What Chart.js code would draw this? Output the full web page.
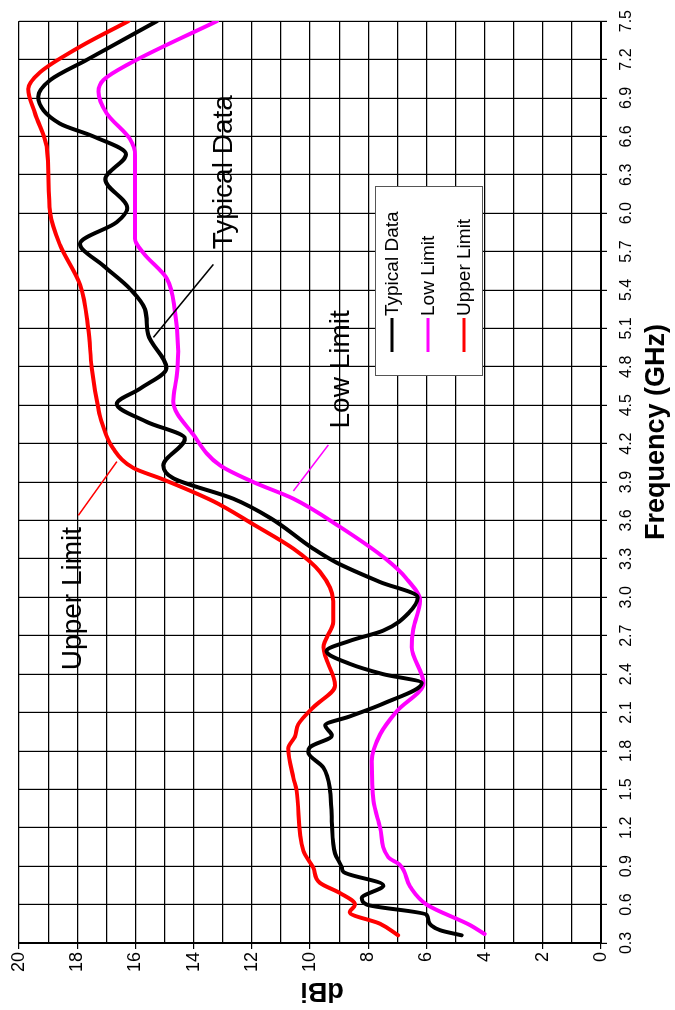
<!DOCTYPE html>
<html>
<head>
<meta charset="utf-8">
<style>
  html, body { margin: 0; padding: 0; background: #fff; overflow: hidden; }
  #wrap {
    position: absolute; left: 0; top: 0; width: 1010px; height: 675px;
    transform-origin: 0 0;
    transform: translateY(1010px) rotate(-90deg);
  }
</style>
</head>
<body>
<div id="wrap"><canvas id="myChart" width="1010" height="675"></canvas></div>

<script src="https://cdn.jsdelivr.net/npm/chart.js"></script>
<script>
  // chart is drawn the "normal" way (freq along x) and the whole canvas is turned 90deg
  var freqTicks = [0.3, 0.6, 0.9, 1.2, 1.5, 1.8, 2.1, 2.4, 2.7, 3.0, 3.3, 3.6, 3.9, 4.2,
                   4.5, 4.8, 5.1, 5.4, 5.7, 6.0, 6.3, 6.6, 6.9, 7.2, 7.5];
  var dbTicks = [0, 2, 4, 6, 8, 10, 12, 14, 16, 18, 20];
  var dbGrid = [0, 1, 2, 3, 4, 5, 6, 7, 8, 9, 10, 11, 12, 13, 14, 15, 16, 17, 18, 19, 20];

  var typFreq = [0.36, 0.40, 0.47, 0.52, 0.60, 0.65, 0.75, 0.855, 0.89, 1.0, 1.25, 1.49, 1.67, 1.79, 1.83,
                 1.92, 2.0, 2.07, 2.17, 2.33, 2.40, 2.48, 2.58, 2.66, 2.74, 2.88, 3.0, 3.12, 3.27, 3.38,
                 3.62, 3.77, 3.93, 4.03, 4.24, 4.37, 4.51, 4.63, 4.79, 5.05, 5.25, 5.41, 5.59, 5.76,
                 5.93, 6.04, 6.265, 6.46, 6.6, 6.7, 6.91, 7.04, 7.2, 7.5];
  var typDb   = [4.79, 5.53, 5.93, 5.99, 8.05, 8.22, 7.48, 8.85, 8.91, 9.14, 9.25, 9.31, 9.54, 10.06, 10.0,
                 9.25, 9.48, 8.63, 7.48, 6.16, 7.49, 8.63, 9.43, 8.63, 7.48, 6.6, 6.3, 7.6, 9.08, 9.89,
                 11.37, 12.64, 14.7, 15.04, 14.3, 15.61, 16.64, 15.84, 14.93, 15.56, 15.67, 16.19, 17.1, 17.9,
                 16.64, 16.28, 17.04, 16.32, 17.45, 18.6, 19.34, 18.93, 17.65, 15.26];

  var lowFreq = [0.37, 0.44, 0.60, 0.74, 0.91, 0.97, 1.2, 1.41, 1.72, 1.93, 2.11, 2.33, 2.61, 2.75, 2.97,
                 3.15, 3.3, 3.55, 3.77, 3.90, 4.03, 4.27, 4.53, 4.73, 4.92, 5.23, 5.49, 5.69, 5.80,
                 6.06, 6.45, 6.58, 6.78, 6.95, 7.04, 7.17, 7.5];
  var lowDb   = [4.0, 4.5, 5.99, 6.56, 6.91, 7.31, 7.59, 7.82, 7.88, 7.59, 7.02, 6.1, 6.5, 6.45, 6.22,
                 6.7, 7.4, 8.97, 10.57, 11.95, 13.09, 14.01, 14.7, 14.58, 14.53, 14.64, 14.92, 15.73, 16.01,
                 16.01, 16.01, 16.19, 16.99, 17.27, 17.1, 16.19, 13.2];

  var upFreq = [0.36, 0.45, 0.54, 0.60, 0.69, 0.77, 0.89, 1.02, 1.49, 1.59, 1.82, 1.91, 2.01, 2.14, 2.31,
                2.61, 2.81, 2.97, 3.20, 3.38, 3.57, 3.75, 3.92, 4.01, 4.16, 4.37, 4.47, 4.79, 5.10,
                5.44, 5.75, 6.0, 6.52, 6.78, 6.97, 7.1, 7.30, 7.5];
  var upDb   = [6.97, 7.59, 8.63, 8.45, 8.97, 9.66, 9.89, 10.23, 10.46, 10.57, 10.75, 10.52, 10.4, 9.89, 9.14,
                9.54, 9.2, 9.2, 9.66, 10.57, 11.95, 13.32, 15.04, 16.07, 16.76, 17.16, 17.27, 17.5, 17.62,
                17.9, 18.59, 18.93, 19.05, 19.45, 19.68, 19.28, 17.9, 16.24];

  function pts(fx, dy) {
    return fx.map(function (f, i) { return { x: f, y: dy[i] }; });
  }

  var FONT = 'Liberation Sans, Arial, sans-serif';

  // titles, callouts and the boxed legend
  var extras = {
    id: 'extras',
    afterDatasetsDraw: function (chart) {
      var c = chart.ctx, x = chart.scales.x, y = chart.scales.y;
      c.save();

      // callout leader lines (data coords)
      function lead(f1, d1, f2, d2, col) {
        c.beginPath();
        c.strokeStyle = col;
        c.lineWidth = 1.5;
        c.moveTo(x.getPixelForValue(f1), y.getPixelForValue(d1));
        c.lineTo(x.getPixelForValue(f2), y.getPixelForValue(d2));
        c.stroke();
      }
      lead(5.60, 13.32, 5.03, 15.38, '#000');
      lead(4.19, 9.37, 3.83, 10.57, '#ff00ff');
      lead(3.64, 17.96, 4.06, 16.64, '#ff0000');

      c.fillStyle = '#000';
      c.font = '28px ' + FONT;
      c.textAlign = 'center';
      c.textBaseline = 'middle';
      c.fillText('Typical Data', x.getPixelForValue(6.32), y.getPixelForValue(12.95));
      c.fillText('Low Limit', x.getPixelForValue(4.78), y.getPixelForValue(8.93));
      c.fillText('Upper Limit', x.getPixelForValue(2.99), y.getPixelForValue(18.14));

      // axis titles
      c.font = 'bold 27px ' + FONT;
      c.fillText('Frequency (GHz)', 578, 657);
      c.save();
      c.translate(20, 322);
      c.rotate(-Math.PI / 2);
      c.fillText('dBi', 0, 0);
      c.restore();

      // legend box
      c.fillStyle = '#fff';
      c.fillRect(634, 375, 189, 107);
      c.strokeStyle = '#555';
      c.lineWidth = 1;
      c.strokeRect(634.5, 375.5, 189, 107);
      c.font = '19px ' + FONT;
      c.textAlign = 'left';
      chart.data.datasets.forEach(function (ds, i) {
        var row = 392 + i * 36;
        c.beginPath();
        c.strokeStyle = ds.borderColor;
        c.lineWidth = 3;
        c.moveTo(658, row);
        c.lineTo(692, row);
        c.stroke();
        c.fillStyle = '#000';
        c.fillText(ds.label, 694, row + 1);
      });
      c.restore();
    }
  };

  const ctx = document.getElementById('myChart');

  new Chart(ctx, {
    type: 'line',
    data: {
      datasets: [{
        label: 'Typical Data',
        data: pts(typFreq, typDb),
        borderColor: '#000000',
        borderWidth: 4
      }, {
        label: 'Low Limit',
        data: pts(lowFreq, lowDb),
        borderColor: '#ff00ff',
        borderWidth: 4
      }, {
        label: 'Upper Limit',
        data: pts(upFreq, upDb),
        borderColor: '#ff0000',
        borderWidth: 4
      }]
    },
    plugins: [extras],
    options: {
      responsive: false,
      animation: false,
      layout: { padding: { left: 0, right: 18, top: 19, bottom: 0 } },
      elements: {
        point: { radius: 0 },
        line: { cubicInterpolationMode: 'monotone', borderCapStyle: 'round', borderJoinStyle: 'round' }
      },
      plugins: {
        legend: { display: false },
        tooltip: { enabled: false }
      },
      scales: {
        x: {
          type: 'linear',
          min: 0.3,
          max: 7.5,
          afterBuildTicks: function (s) { s.ticks = freqTicks.map(function (v) { return { value: v }; }); },
          afterFit: function (s) { s.height = 74; },
          grid: { color: '#000', lineWidth: 1.2, tickLength: 6, tickColor: '#000' },
          border: { color: '#000', width: 2 },
          ticks: {
            autoSkip: false, maxRotation: 0, padding: 10,
            color: '#000', font: { family: FONT, size: 16 },
            callback: function (v) { return v.toFixed(1); }
          }
        },
        y: {
          min: 0,
          max: 20,
          afterBuildTicks: function (s) { s.ticks = dbGrid.map(function (v) { return { value: v }; }); },
          afterFit: function (s) { s.width = 67; },
          grid: {
            color: '#000', lineWidth: 1.2, tickLength: 6,
            tickColor: function (c) { return dbTicks.indexOf(c.tick.value) >= 0 ? '#000' : 'rgba(0,0,0,0)'; }
          },
          border: { color: '#000', width: 2 },
          ticks: {
            autoSkip: false, color: '#000', font: { family: FONT, size: 18 },
            callback: function (v) { return dbTicks.indexOf(v) >= 0 ? String(v) : ''; }
          }
        }
      }
    }
  });
</script>
</body>
</html>
